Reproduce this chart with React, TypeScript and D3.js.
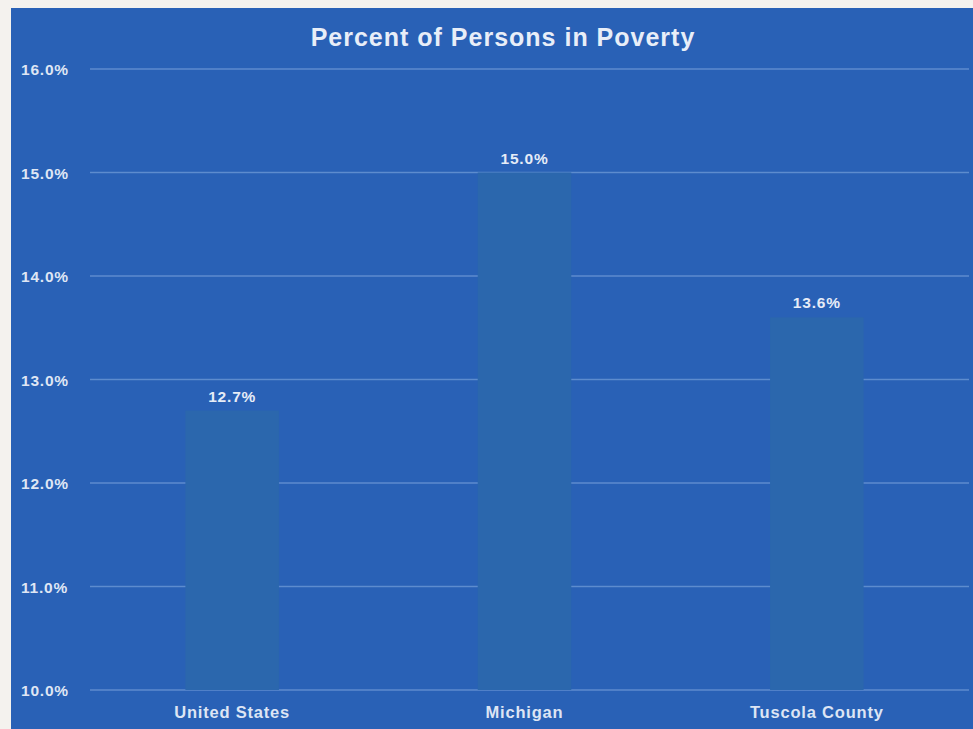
import React from "react";
import * as d3 from "d3";

const categories = ["United States", "Michigan", "Tuscola County"];
const values = [12.7, 15.0, 13.6];
const yTicks = [10, 11, 12, 13, 14, 15, 16];
const title = "Percent of Persons in Poverty";

const W = 973;
const H = 729;
const margin = { left: 86, right: 10, top: 69, bottom: 39 };
const gridLeft = 90;

export default function App() {
  const x = d3
    .scaleBand<string>()
    .domain(categories)
    .range([margin.left, W - margin.right])
    .paddingInner(0.68)
    .paddingOuter(0.34);
  const y = d3.scaleLinear().domain([10, 16]).range([H - margin.bottom, margin.top]);
  const fmt = (v: number) => d3.format(".1f")(v) + "%";
  const font = "Arial, 'Liberation Sans', sans-serif";

  return (
    <svg
      width={W}
      height={H}
      style={{ position: "absolute", left: 0, top: 0, display: "block" }}
    >
      <rect x={0} y={0} width={W} height={H} fill="#f4f2ee" />
      <rect x={11} y={8} width={W - 11} height={H - 8} fill="#2961b6" />
      {yTicks.map((t) => (
        <g key={t}>
          <line
            x1={gridLeft}
            x2={W - 4}
            y1={y(t)}
            y2={y(t)}
            stroke="#7aa3dc"
            strokeWidth={1.5}
            opacity={0.65}
          />
          <text
            x={21}
            y={y(t) + 6}
            fill="#dfe6f4"
            fontFamily={font}
            fontWeight="bold"
            fontSize={15.5}
            letterSpacing={0.8}
          >
            {fmt(t)}
          </text>
        </g>
      ))}
      {categories.map((c, i) => (
        <g key={c}>
          <rect
            x={x(c)}
            y={y(values[i])}
            width={x.bandwidth()}
            height={y(10) - y(values[i])}
            fill="#2b67ad"
          />
          <text
            x={(x(c) as number) + x.bandwidth() / 2}
            y={y(values[i]) - 9}
            textAnchor="middle"
            fill="#e6ecf7"
            fontFamily={font}
            fontWeight="bold"
            fontSize={15.5}
            letterSpacing={0.8}
          >
            {fmt(values[i])}
          </text>
          <text
            x={(x(c) as number) + x.bandwidth() / 2}
            y={718}
            textAnchor="middle"
            fill="#dde5f4"
            fontFamily={font}
            fontWeight="bold"
            fontSize={16.5}
            letterSpacing={0.8}
          >
            {c}
          </text>
        </g>
      ))}
      <text
        x={503}
        y={46}
        textAnchor="middle"
        fill="#e8eef8"
        fontFamily={font}
        fontWeight="bold"
        fontSize={25}
        letterSpacing={1}
      >
        {title}
      </text>
    </svg>
  );
}
